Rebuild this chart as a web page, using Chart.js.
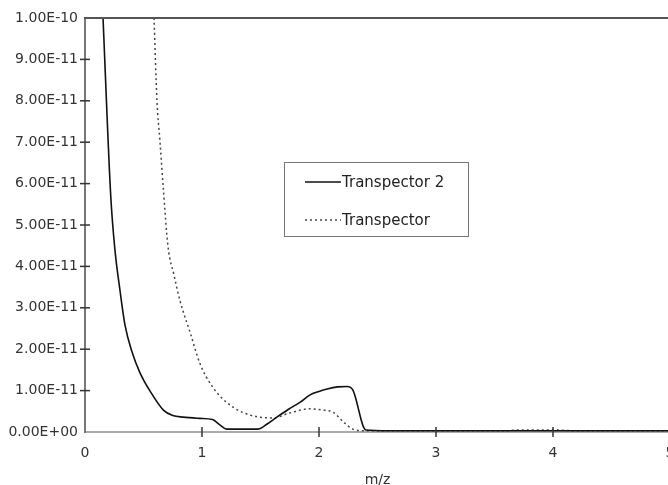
<!DOCTYPE html>
<html>
<head>
<meta charset="utf-8">
<script src="https://cdn.jsdelivr.net/npm/chart.js@4/dist/chart.umd.min.js"></script>
<style>
html,body{margin:0;padding:0;background:#fff;overflow:hidden;}
#wrap{width:668px;height:485px;overflow:hidden;position:relative;}
#c{position:absolute;left:0;top:0;}
</style>
</head>
<body>
<div id="wrap"><canvas id="c" width="700" height="493"></canvas></div>
<script>
// Transpector 2 (solid)
const t2X = [0.154, 0.22, 0.256, 0.30, 0.342, 0.40, 0.47, 0.56, 0.67, 0.75, 0.84, 0.98, 1.09, 1.15, 1.21, 1.48, 1.56, 1.64, 1.74, 1.84, 1.92, 2.00, 2.07, 2.16, 2.24, 2.29, 2.40, 2.60, 3.00, 3.50, 4.00, 4.50, 5.00];
const t2Y = [10.0e-11, 5.7e-11, 4.4e-11, 3.4e-11, 2.58e-11, 1.95e-11, 1.43e-11, 0.97e-11, 0.53e-11, 0.40e-11, 0.36e-11, 0.33e-11, 0.30e-11, 0.18e-11, 0.07e-11, 0.07e-11, 0.2e-11, 0.36e-11, 0.55e-11, 0.72e-11, 0.89e-11, 0.98e-11, 1.04e-11, 1.09e-11, 1.10e-11, 1.01e-11, 0.05e-11, 0.03e-11, 0.03e-11, 0.03e-11, 0.03e-11, 0.03e-11, 0.03e-11];
// Transpector (dotted)
const t1X = [0.59, 0.615, 0.64, 0.67, 0.71, 0.76, 0.81, 0.90, 0.98, 1.09, 1.24, 1.41, 1.61, 1.75, 1.92, 2.03, 2.12, 2.21, 2.29, 2.40, 3.00, 3.60, 3.70, 4.00, 4.20, 5.00];
const t1Y = [10.0e-11, 8.0e-11, 7.05e-11, 5.85e-11, 4.47e-11, 3.8e-11, 3.19e-11, 2.39e-11, 1.67e-11, 1.09e-11, 0.65e-11, 0.41e-11, 0.34e-11, 0.46e-11, 0.56e-11, 0.53e-11, 0.48e-11, 0.24e-11, 0.07e-11, 0.03e-11, 0.03e-11, 0.03e-11, 0.05e-11, 0.05e-11, 0.03e-11, 0.03e-11];
const seriesNames = ['Transpector 2', 'Transpector'];
const xTicks = [0, 1, 2, 3, 4, 5];
const xTickLabels = ['0', '1', '2', '3', '4', '5'];
const yTicks = [0, 1e-11, 2e-11, 3e-11, 4e-11, 5e-11, 6e-11, 7e-11, 8e-11, 9e-11, 1e-10];
const yTickLabels = ['0.00E+00', '1.00E-11', '2.00E-11', '3.00E-11', '4.00E-11', '5.00E-11', '6.00E-11', '7.00E-11', '8.00E-11', '9.00E-11', '1.00E-10'];
const xTitle = 'm/z';

const FONT = 'DejaVu Sans';
const TEXT = '#333';

const tickMarks = {
  id: 'tickMarks',
  afterDraw(chart) {
    const ctx = chart.ctx, a = chart.chartArea;
    const xs = chart.scales.x, ys = chart.scales.y;
    ctx.save();
    ctx.strokeStyle = '#555';
    ctx.lineWidth = 2;
    ctx.beginPath();
    ctx.moveTo(a.left - 1, a.top);
    ctx.lineTo(a.right + 10, a.top);
    ctx.stroke();
    ctx.strokeStyle = '#333';
    ctx.lineWidth = 1.5;
    ys.ticks.forEach(t => {
      const y = ys.getPixelForValue(t.value);
      if (t.value === 0 || t.value >= 1e-10) return;
      ctx.beginPath(); ctx.moveTo(a.left - 5, y); ctx.lineTo(a.left + 5, y); ctx.stroke();
    });
    xs.ticks.forEach(t => {
      const x = xs.getPixelForValue(t.value);
      if (t.value === 0) return;
      ctx.beginPath(); ctx.moveTo(x, a.bottom - 5); ctx.lineTo(x, a.bottom + 5); ctx.stroke();
    });
    // legend box
    const bx = 284, by = 162, bw = 184, bh = 74;
    ctx.strokeStyle = '#777';
    ctx.lineWidth = 1;
    ctx.strokeRect(bx + 0.5, by + 0.5, bw, bh);
    ctx.font = '15px "' + FONT + '"';
    ctx.textBaseline = 'middle';
    ctx.fillStyle = '#222';
    chart.data.datasets.forEach((ds, i) => {
      const ly = i === 0 ? 182 : 220;
      ctx.save();
      ctx.strokeStyle = ds.borderColor;
      ctx.lineWidth = ds.borderWidth;
      ctx.setLineDash(ds.borderDash || []);
      ctx.beginPath(); ctx.moveTo(305, ly); ctx.lineTo(341, ly); ctx.stroke();
      ctx.restore();
      ctx.fillText(ds.label, 342, ly + 1);
    });
    ctx.restore();
  }
};

new Chart(document.getElementById('c'), {
  type: 'line',
  data: {
    datasets: [
      { label: seriesNames[0], data: t2X.map((x, i) => ({x, y: t2Y[i]})), borderColor: '#111', borderWidth: 1.6, pointRadius: 0, cubicInterpolationMode: 'monotone', fill: false },
      { label: seriesNames[1], data: t1X.map((x, i) => ({x, y: t1Y[i]})), borderColor: '#444', borderWidth: 1.5, borderDash: [2, 3], pointRadius: 0, cubicInterpolationMode: 'monotone', fill: false }
    ]
  },
  options: {
    responsive: false,
    animation: false,
    layout: { padding: { left: 0, top: 18, right: 30, bottom: 0 } },
    plugins: { legend: { display: false }, tooltip: { enabled: false } },
    scales: {
      x: {
        type: 'linear', min: 0, max: 5,
        afterBuildTicks: s => { s.ticks = xTicks.map(v => ({value: v})); },
        afterFit: s => { s.height = 61; },
        grid: { display: false, drawTicks: false },
        border: { color: '#aaa', width: 2 },
        ticks: { padding: 13, color: TEXT, font: { family: FONT, size: 14 }, maxRotation: 0, callback: (v, i) => xTickLabels[i] },
        title: { display: true, text: xTitle, color: TEXT, font: { family: FONT, size: 14 }, padding: { top: 4, bottom: 4 } }
      },
      y: {
        type: 'linear', min: 0, max: 1e-10,
        afterBuildTicks: s => { s.ticks = yTicks.map(v => ({value: v})); },
        afterFit: s => { s.width = 85; },
        grid: { display: false, drawTicks: false },
        border: { color: '#777', width: 2 },
        ticks: { padding: 7, color: TEXT, font: { family: FONT, size: 14 }, callback: (v, i) => yTickLabels[i] }
      }
    }
  },
  plugins: [tickMarks]
});
</script>
</body>
</html>
